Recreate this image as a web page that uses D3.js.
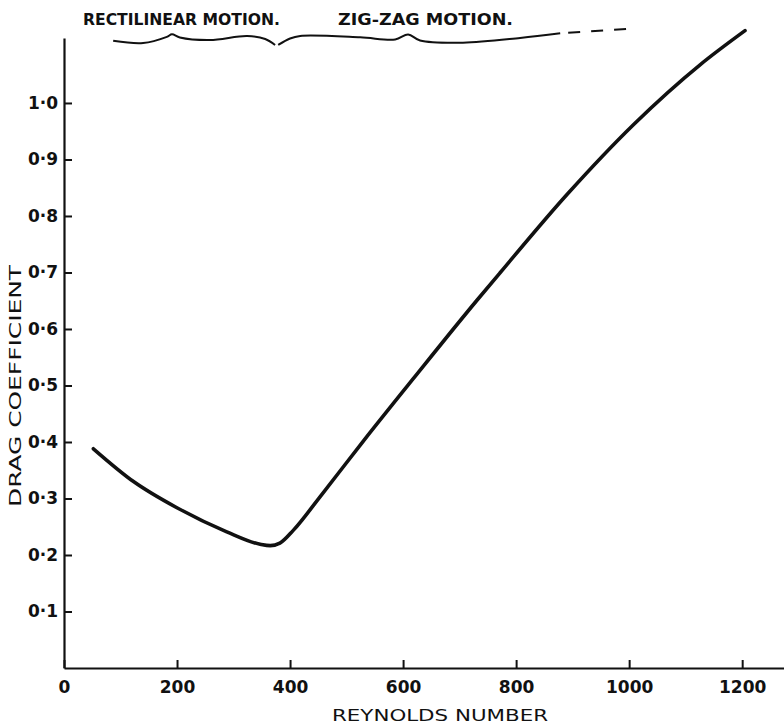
<!DOCTYPE html>
<meta charset="utf-8">
<style>
body{margin:0;background:#fff;}
text{font-family:"DejaVu Sans",sans-serif;fill:#111;}
.tick text{font-weight:bold;font-size:17px;}
</style>
<body>
<script src="https://d3js.org/d3.v7.min.js"></script>
<script>
// drag coefficient vs Reynolds number
var reynolds = [52, 123, 199, 288, 347, 365, 382, 406, 453, 530, 618, 730, 772, 890, 1008, 1126, 1205];
var dragCoef = [0.388, 0.330, 0.284, 0.241, 0.219, 0.2165, 0.221, 0.244, 0.303, 0.402, 0.512, 0.650, 0.700, 0.838, 0.962, 1.068, 1.128];

var xTicks = [0, 200, 400, 600, 800, 1000, 1200];
var yTicks = [0.1, 0.2, 0.3, 0.4, 0.5, 0.6, 0.7, 0.8, 0.9, 1.0];

// braces over the top of the plot, in data units [Re, Cd]
var braceRect = [[87,1.110],[140,1.106],[182,1.117],[191,1.1215],[205,1.116],[258,1.1115],[324,1.1186],[356,1.1133],[373.5,1.1027]];
var braceZig = [[379,1.1027],[400,1.1142],[418,1.1186],[524,1.1162],[586,1.1124],[609,1.1212],[630,1.1106],[706,1.1067],[807,1.115],[878,1.1233]];
var braceDash = [[878,1.1233],[1005,1.1315]];

var w = 784, h = 727;

var svg = d3.select("body").append("svg")
  .attr("width", w)
  .attr("height", h);

var x = d3.scaleLinear().domain([0, 1274]).range([64, 784]);
var y = d3.scaleLinear().domain([0, 1.115]).range([668, 38]);

var fmt = function(d){ return d3.format(".1f")(d).replace(".", "·"); };

// axes
var gx = svg.append("g")
  .attr("transform", "translate(0,668)")
  .call(d3.axisBottom(x).tickValues(xTicks).tickFormat(d3.format("d")).tickSizeInner(-8).tickSizeOuter(0).tickPadding(13));
var gy = svg.append("g")
  .attr("transform", "translate(64,0)")
  .call(d3.axisLeft(y).tickValues(yTicks).tickFormat(fmt).tickSizeInner(-8).tickSizeOuter(0).tickPadding(6));

[gx, gy].forEach(function(g){
  g.select(".domain").attr("stroke", "#111").attr("stroke-width", 2.2);
  g.selectAll(".tick line").attr("stroke", "#111").attr("stroke-width", 2);
  g.selectAll(".tick text").attr("fill", "#111").attr("font-family", null).attr("font-size", null);
});

// curve
var line = d3.line()
  .x(function(d, i){ return x(reynolds[i]); })
  .y(function(d){ return y(d); })
  .curve(d3.curveMonotoneX);

svg.append("path")
  .attr("d", line(dragCoef))
  .attr("fill", "none")
  .attr("stroke", "#111")
  .attr("stroke-width", 3.6)
  .attr("stroke-linecap", "round");

// braces
var bline = d3.line()
  .x(function(d){ return x(d[0]); })
  .y(function(d){ return y(d[1]); })
  .curve(d3.curveCatmullRom.alpha(0.5));

[braceRect, braceZig].forEach(function(b){
  svg.append("path")
    .attr("d", bline(b))
    .attr("fill", "none")
    .attr("stroke", "#111")
    .attr("stroke-width", 2);
});
svg.append("path")
  .attr("d", bline(braceDash))
  .attr("fill", "none")
  .attr("stroke", "#111")
  .attr("stroke-width", 2)
  .attr("stroke-dasharray", "12,11")
  .attr("stroke-dashoffset", -8);

// labels
svg.append("text")
  .attr("x", 83).attr("y", 25)
  .attr("font-weight", "bold").attr("font-size", 15)
  .attr("textLength", 197).attr("lengthAdjust", "spacingAndGlyphs")
  .text("RECTILINEAR MOTION.");
svg.append("text")
  .attr("x", 338).attr("y", 25)
  .attr("font-weight", "bold").attr("font-size", 15)
  .attr("textLength", 175).attr("lengthAdjust", "spacingAndGlyphs")
  .text("ZIG-ZAG MOTION.");

svg.append("text")
  .attr("x", 332).attr("y", 721)
  .attr("font-size", 15)
  .attr("textLength", 216).attr("lengthAdjust", "spacingAndGlyphs")
  .text("REYNOLDS NUMBER");

svg.append("text")
  .attr("transform", "translate(21,507) rotate(-90)")
  .attr("font-size", 16)
  .attr("textLength", 242).attr("lengthAdjust", "spacingAndGlyphs")
  .text("DRAG COEFFICIENT");
</script>
</body>
